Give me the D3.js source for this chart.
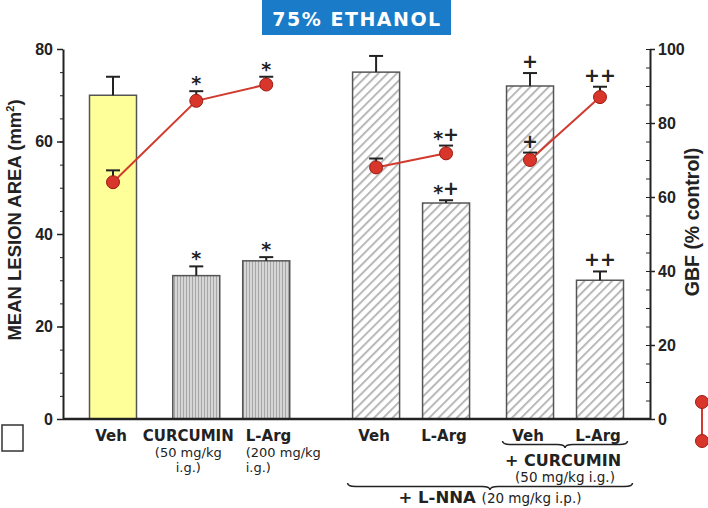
<!DOCTYPE html>
<html lang="en">
  <head>
    <meta charset="UTF-8" />
    <title>75% Ethanol - lesion area and GBF</title>
    <script src="https://d3js.org/d3.v7.min.js"></script>
    <style>
      body {
        margin: 0;
        background: #fff;
      }
      .tick text {
        font-family: "Liberation Sans", Arial, sans-serif;
        font-weight: bold;
        font-size: 16px;
        fill: #222;
      }
      .axis path,
      .axis line {
        stroke: #222;
      }
      .axis path {
        stroke-width: 2px;
      }
      .cat {
        font-family: "DejaVu Sans", sans-serif;
        font-weight: bold;
        font-size: 15px;
        fill: #222;
      }
      .sub {
        font-family: "DejaVu Sans", sans-serif;
        font-size: 13px;
        fill: #222;
      }
      .mark {
        font-family: "DejaVu Sans", sans-serif;
        font-weight: bold;
        font-size: 19px;
        fill: #222;
        text-anchor: middle;
      }
      .ytitle {
        font-family: "Liberation Sans", Arial, sans-serif;
        font-weight: bold;
        font-size: 18.5px;
        fill: #222;
        text-anchor: middle;
      }
    </style>
  </head>
  <body>
    <svg width="708" height="508"></svg>

    <script>
      // groups on the x axis
      const categories = ["Veh", "CURCUMIN", "L-Arg", "Veh", "L-Arg", "Veh", "L-Arg"];
      const doses = [[], ["(50 mg/kg", "i.g.)"], ["(200 mg/kg", "i.g.)"], [], [], [], []];
      const series = ["A", "A", "A", "B", "B", "C", "C"]; // which points are joined

      // mean lesion area (mm2), left axis
      const lesion = [70, 31, 34.2, 75, 46.7, 72, 30];
      const lesionErr = [4, 2, 0.8, 3.5, 0.6, 2.8, 1.9];
      const lesionMarks = ["", "*", "*", "", "*+", "+", "++"];

      // gastric blood flow (% control), right axis
      const gbf = [64, 86, 90.4, 68, 71.8, 70, 87];
      const gbfErr = [3.2, 2.6, 2.1, 2.4, 2.1, 2, 2.8];
      const gbfMarks = ["", "*", "*", "", "*+", "+", "++"];

      const lesionTicks = [0, 20, 40, 60, 80];
      const gbfTicks = [0, 20, 40, 60, 80, 100];

      const svg = d3.select("svg");
      const plotLeft = 63,
        plotRight = 650,
        plotTop = 49,
        plotBottom = 419;
      const barW = 47;

      // extra spacing between bar slots
      const gapAfter = [0.19, 0, 0.57, 0, 0.2, 0, 0];
      const slots = [];
      categories.forEach((c, i) => {
        slots.push(i === 0 ? 0 : slots[i - 1] + 1 + gapAfter[i - 1]);
      });

      const x = d3.scaleLinear().domain([0, slots[slots.length - 1]]).range([113, 600]);
      const yL = d3.scaleLinear().domain([0, 80]).range([plotBottom, plotTop]);
      const yR = d3.scaleLinear().domain([0, 100]).range([plotBottom, plotTop]);
      const cx = (i) => x(slots[i]);

      // fill patterns
      const defs = svg.append("defs");
      const diag = defs
        .append("pattern")
        .attr("id", "diag")
        .attr("patternUnits", "userSpaceOnUse")
        .attr("width", 6.5)
        .attr("height", 6.5)
        .attr("patternTransform", "rotate(45)");
      diag.append("rect").attr("width", 6.5).attr("height", 6.5).attr("fill", "#fff");
      diag
        .append("line")
        .attr("x1", 1)
        .attr("x2", 1)
        .attr("y1", 0)
        .attr("y2", 6.5)
        .attr("stroke", "#b8b8b8")
        .attr("stroke-width", 2);

      const vert = defs
        .append("pattern")
        .attr("id", "vert")
        .attr("patternUnits", "userSpaceOnUse")
        .attr("width", 3)
        .attr("height", 3);
      vert.append("rect").attr("width", 3).attr("height", 3).attr("fill", "#d6d6d6");
      vert
        .append("line")
        .attr("x1", 0.5)
        .attr("x2", 0.5)
        .attr("y1", 0)
        .attr("y2", 3)
        .attr("stroke", "#a6a6a6")
        .attr("stroke-width", 1);

      function barFill(i) {
        if (series[i] !== "A") return "url(#diag)";
        return categories[i] === "Veh" ? "#ffff99" : "url(#vert)";
      }

      // title
      svg.append("rect").attr("x", 262).attr("y", 0).attr("width", 189).attr("height", 35).attr("fill", "#1a7cc8");
      svg
        .append("text")
        .attr("x", 357)
        .attr("y", 26)
        .attr("text-anchor", "middle")
        .attr("fill", "#fff")
        .style("font-family", '"DejaVu Sans", sans-serif')
        .style("font-weight", "bold")
        .style("font-size", "19px")
        .style("letter-spacing", "1.5px")
        .text("75% ETHANOL");

      // bars
      const idx = d3.range(categories.length);
      svg
        .append("g")
        .selectAll("rect")
        .data(idx)
        .join("rect")
        .attr("x", (i) => cx(i) - barW / 2)
        .attr("y", (i) => yL(lesion[i]))
        .attr("width", barW)
        .attr("height", (i) => plotBottom - yL(lesion[i]))
        .attr("fill", barFill)
        .attr("stroke", "#555")
        .attr("stroke-width", 1.5);

      // error bars
      function errBar(g, xi, y0, y1) {
        g.append("line").attr("x1", xi).attr("x2", xi).attr("y1", y0).attr("y2", y1).attr("stroke", "#222").attr("stroke-width", 2);
        g.append("line").attr("x1", xi - 7).attr("x2", xi + 7).attr("y1", y1).attr("y2", y1).attr("stroke", "#222").attr("stroke-width", 2);
      }
      const errG = svg.append("g");
      idx.forEach((i) => errBar(errG, cx(i), yL(lesion[i]), yL(lesion[i] + lesionErr[i])));

      // axes
      svg
        .append("g")
        .attr("class", "axis")
        .attr("transform", `translate(${plotLeft},0)`)
        .call(d3.axisLeft(yL).tickValues(d3.range(0, 81, 5)).tickSize(3).tickFormat(""))
        .call((g) => g.select(".domain").remove());
      svg
        .append("g")
        .attr("class", "axis")
        .attr("transform", `translate(${plotLeft},0)`)
        .call(d3.axisLeft(yL).tickValues(lesionTicks).tickSize(6).tickSizeOuter(0).tickPadding(4))
        .call((g) => g.selectAll(".tick line").attr("stroke-width", 1.5));

      svg
        .append("g")
        .attr("class", "axis")
        .attr("transform", `translate(${plotRight},0)`)
        .call(d3.axisRight(yR).tickValues(d3.range(0, 101, 5)).tickSize(-4).tickFormat(""))
        .call((g) => g.select(".domain").remove());
      svg
        .append("g")
        .attr("class", "axis")
        .attr("transform", `translate(${plotRight},0)`)
        .call(d3.axisRight(yR).tickValues(gbfTicks).tickSize(5).tickSizeOuter(0).tickPadding(3))
        .call((g) => g.selectAll(".tick line").attr("stroke-width", 1.5));

      svg
        .append("line")
        .attr("x1", plotLeft)
        .attr("x2", plotRight)
        .attr("y1", plotBottom)
        .attr("y2", plotBottom)
        .attr("stroke", "#222")
        .attr("stroke-width", 2.5);

      // GBF line
      const line = d3
        .line()
        .x((i) => cx(i))
        .y((i) => yR(gbf[i]));
      const lineG = svg.append("g");
      d3.groups(idx, (i) => series[i]).forEach(([key, pts]) => {
        lineG.append("path").attr("d", line(pts)).attr("fill", "none").attr("stroke", "#d23a2e").attr("stroke-width", 2);
      });
      idx.forEach((i) => errBar(lineG, cx(i), yR(gbf[i]), yR(gbf[i] + gbfErr[i])));
      lineG
        .selectAll("circle")
        .data(idx)
        .join("circle")
        .attr("cx", cx)
        .attr("cy", (i) => yR(gbf[i]))
        .attr("r", 6.5)
        .attr("fill", "#d8352b")
        .attr("stroke", "#9c1c14")
        .attr("stroke-width", 1);

      // significance marks ("*" sits a little lower than "+")
      const markG = svg.append("g");
      function addMark(xi, yTop, str) {
        const t = markG.append("text").attr("class", "mark").attr("x", xi).attr("y", yTop - 5);
        let prev = "";
        str.split("").forEach((ch) => {
          const dy = ch === "*" ? 4 : prev === "*" ? -4 : 0;
          t.append("tspan").attr("dy", dy).text(ch);
          prev = ch;
        });
      }
      idx.forEach((i) => {
        addMark(cx(i), yL(lesion[i] + lesionErr[i]), lesionMarks[i]);
        addMark(cx(i), yR(gbf[i] + gbfErr[i]), gbfMarks[i]);
      });

      // category labels
      const labG = svg.append("g");
      idx.forEach((i) => {
        const start = i === 2;
        const lx = start ? cx(i) - barW / 2 + 3 : cx(i) - (i === 1 ? 8 : 2);
        labG
          .append("text")
          .attr("class", "cat")
          .attr("x", lx)
          .attr("y", 441)
          .attr("text-anchor", start ? "start" : "middle")
          .text(categories[i]);
        doses[i].forEach((d, k) => {
          labG
            .append("text")
            .attr("class", "sub")
            .attr("x", lx)
            .attr("y", 457 + k * 15)
            .attr("text-anchor", start ? "start" : "middle")
            .text(d);
        });
      });

      // braces under grouped treatments
      function brace(x0, x1, xm, y, h) {
        const r = 8;
        return `M${x0},${y} Q${x0},${y + h / 2} ${x0 + r},${y + h / 2} L${xm - r},${y + h / 2} Q${xm},${y + h / 2} ${xm},${y + h}` +
          ` Q${xm},${y + h / 2} ${xm + r},${y + h / 2} L${x1 - r},${y + h / 2} Q${x1},${y + h / 2} ${x1},${y}`;
      }
      const bx0 = cx(5) - barW / 2 - 4,
        bx1 = cx(6) + barW / 2 + 4;
      svg.append("path").attr("d", brace(bx0, bx1, (bx0 + bx1) / 2, 441, 7)).attr("fill", "none").attr("stroke", "#222").attr("stroke-width", 1.5);
      svg
        .append("text")
        .attr("class", "cat")
        .attr("x", (bx0 + bx1) / 2 - 2)
        .attr("y", 466)
        .attr("text-anchor", "middle")
        .style("font-size", "16px")
        .text("+ CURCUMIN");
      svg
        .append("text")
        .attr("class", "sub")
        .attr("x", (bx0 + bx1) / 2)
        .attr("y", 482)
        .attr("text-anchor", "middle")
        .style("font-size", "13.5px")
        .text("(50 mg/kg i.g.)");

      const nx0 = cx(3) - barW / 2 - 5,
        nx1 = cx(6) + barW / 2 + 9;
      svg.append("path").attr("d", brace(nx0, nx1, 490, 483, 7)).attr("fill", "none").attr("stroke", "#222").attr("stroke-width", 1.5);
      const lnna = svg.append("text").attr("x", 490).attr("y", 503).attr("text-anchor", "middle");
      lnna.append("tspan").attr("class", "cat").style("font-size", "16.5px").text("+ L-NNA ");
      lnna.append("tspan").attr("class", "sub").style("font-size", "13.5px").text("(20 mg/kg i.p.)");

      // axis titles
      const lt = svg.append("text").attr("class", "ytitle").attr("transform", "translate(21,220) rotate(-90)");
      lt.append("tspan").text("MEAN LESION AREA (mm");
      lt.append("tspan").attr("dy", -7).style("font-size", "11px").text("2");
      lt.append("tspan").attr("dy", 7).text(")");

      svg.append("text").attr("class", "ytitle").attr("transform", "translate(699,222) rotate(-90)").style("font-size", "19.5px").text("GBF (% control)");

      // legend symbols
      svg.append("rect").attr("x", 2).attr("y", 425).attr("width", 21).attr("height", 26).attr("fill", "#fff").attr("stroke", "#333").attr("stroke-width", 1.5);
      svg.append("line").attr("x1", 702).attr("x2", 702).attr("y1", 402).attr("y2", 441).attr("stroke", "#d23a2e").attr("stroke-width", 2);
      svg
        .selectAll(".legdot")
        .data([402, 441])
        .join("circle")
        .attr("class", "legdot")
        .attr("cx", 702)
        .attr("cy", (d) => d)
        .attr("r", 6.5)
        .attr("fill", "#d8352b")
        .attr("stroke", "#9c1c14");
    </script>
  </body>
</html>
